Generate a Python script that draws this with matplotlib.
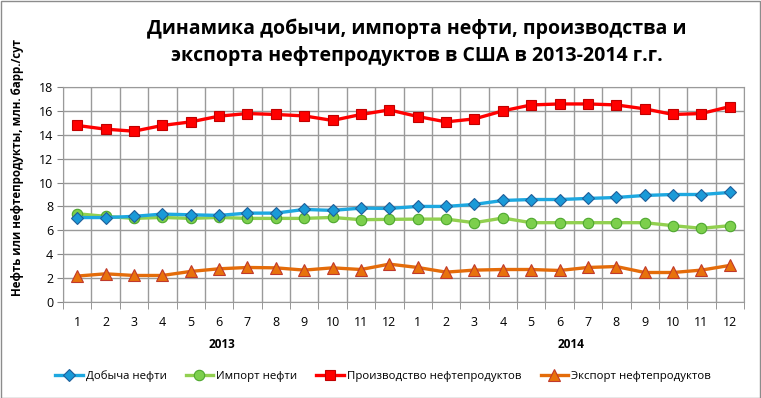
import matplotlib
matplotlib.use("Agg")
import matplotlib.pyplot as plt
import matplotlib.transforms as mtransforms
from matplotlib.patches import Rectangle
import numpy as np

plt.rcParams['font.family'] = ['Open Sans', 'DejaVu Sans']

months = [str(m) for m in range(1, 13)] * 2
years = ["2013", "2014"]

production = [7.07, 7.07, 7.17, 7.36, 7.30, 7.25, 7.44, 7.44, 7.75, 7.67, 7.86, 7.83,
              8.00, 8.00, 8.17, 8.50, 8.58, 8.58, 8.67, 8.75, 8.92, 9.00, 9.00, 9.17]
imports = [7.39, 7.17, 7.00, 7.08, 7.00, 7.08, 7.00, 7.00, 7.00, 7.08, 6.89, 6.92,
           6.94, 6.94, 6.64, 7.03, 6.64, 6.64, 6.64, 6.64, 6.64, 6.39, 6.17, 6.39]
refining = [14.78, 14.47, 14.30, 14.78, 15.08, 15.56, 15.78, 15.70, 15.58, 15.20, 15.70, 16.08,
            15.53, 15.08, 15.33, 16.00, 16.50, 16.58, 16.58, 16.50, 16.17, 15.70, 15.78, 16.36]
exports = [2.17, 2.36, 2.22, 2.22, 2.56, 2.78, 2.89, 2.86, 2.67, 2.86, 2.72, 3.17,
           2.89, 2.50, 2.67, 2.72, 2.72, 2.64, 2.89, 2.97, 2.47, 2.47, 2.67, 3.06]

series_names = ["Добыча нефти", "Импорт нефти", "Производство нефтепродуктов", "Экспорт нефтепродуктов"]
title = "Динамика добычи, импорта нефти, производства и\nэкспорта нефтепродуктов в США в 2013-2014 г.г."
ylabel = "Нефть или нефтепродукты, млн. барр./сут"

W, H = 761, 398
fig = plt.figure(figsize=(W / 100, H / 100), dpi=100)
fig.patches.append(Rectangle((0.5 / W, 0.5 / H), 1 - 1.5 / W, 1 - 1.5 / H, transform=fig.transFigure,
                             fill=False, edgecolor='#8c8c8c', linewidth=1))

ax = fig.add_axes([63 / W, 1 - 302 / H, (744 - 63) / W, (302 - 87) / H])
x = np.arange(len(months))

ax.plot(x, production, color='#1ea8e0', lw=2.4, marker='D', ms=6.5,
        mfc='#1a9ad8', mec='#1f5f9a', mew=0.8, label=series_names[0], zorder=4)
ax.plot(x, imports, color='#92d050', lw=2.4, marker='o', ms=7.5,
        mfc='#7ccf4c', mec='#4ea72e', mew=0.8, label=series_names[1], zorder=3)
ax.plot(x, refining, color='#ff0000', lw=2.4, marker='s', ms=7.5,
        mfc='#ff0000', mec='#c00000', mew=0.8, label=series_names[2], zorder=4)
ax.plot(x, exports, color='#e46c0a', lw=2.4, marker='^', ms=8,
        mfc='#e8720c', mec='#c0392b', mew=0.8, label=series_names[3], zorder=4)

ax.set_xlim(-0.5, len(months) - 0.5)
ax.set_ylim(0, 18)
ax.set_yticks(np.arange(0, 19, 2))
ax.set_xticks(x)
ax.set_xticklabels(months)
ax.set_xticks(np.arange(-0.5, len(months), 1), minor=True)
ax.tick_params(axis='x', which='major', length=0, pad=10, labelsize=9)
ax.tick_params(axis='x', which='minor', length=5, color='#868686', direction='out')
ax.tick_params(axis='y', length=4, color='#868686', labelsize=9, pad=3)
ax.grid(True, which='major', axis='y', color='#9a9a9a', lw=1)
ax.grid(True, which='minor', axis='x', color='#9a9a9a', lw=1)
for s in ax.spines.values():
    s.set_color('#9a9a9a')
ax.set_axisbelow(True)

trans = mtransforms.blended_transform_factory(ax.transData, fig.transFigure)
ax.text(5.1, 1 - 345 / H, years[0], transform=trans, ha='center', va='center',
        fontsize=8.5, fontweight='bold')
ax.text(17.4, 1 - 345 / H, years[1], transform=trans, ha='center', va='center',
        fontsize=8.5, fontweight='bold')

fig.text(18 / W, 1 - 167 / H, ylabel, rotation=90, ha='center', va='center',
         fontsize=8.3, fontweight='bold')
fig.text(417 / W, 1 - 42 / H, title, ha='center', va='center', fontsize=14,
         fontweight='bold', linespacing=1.45)

fig.legend(loc='center', bbox_to_anchor=(383 / W, 1 - 376 / H), ncol=4, frameon=False,
           fontsize=8.2, handlelength=2.4, columnspacing=1.7, handletextpad=0.25)

fig.savefig("out.png", dpi=100)
